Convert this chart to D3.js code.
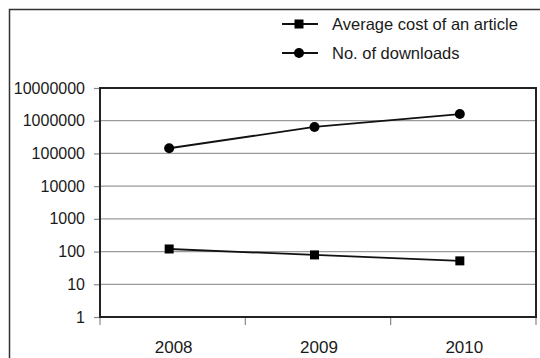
<!DOCTYPE html>
<html>
<head>
<meta charset="utf-8">
<script src="https://cdn.jsdelivr.net/npm/d3@7"></script>
<style>
  html, body { margin: 0; padding: 0; background: #fff; }
  svg { display: block; }
  text { font-family: "Liberation Sans", Arial, sans-serif; fill: #1a1a1a; }
</style>
</head>
<body>
<svg id="chart" width="540" height="358"></svg>
<script>
// Years on the x axis
const years = ["2008", "2009", "2010"];
// Series values (log scale)
const avgCost = [120, 79, 52];
const downloads = [144000, 646000, 1600000];
// Y tick values
const yTicks = [1, 10, 100, 1000, 10000, 100000, 1000000, 10000000];
// Legend entries
const seriesNames = ["Average cost of an article", "No. of downloads"];

const svg = d3.select("#chart");
const W = 540, H = 358;
const plot = { left: 100, right: 536, top: 88, bottom: 317 };

svg.append("rect").attr("width", W).attr("height", H).attr("fill", "#fff");

// outer frame (runs off the right and bottom edges)
svg.append("rect")
  .attr("x", 9.5).attr("y", 9.5)
  .attr("width", W + 20).attr("height", H + 20)
  .attr("fill", "none").attr("stroke", "#333").attr("stroke-width", 1.5);

const x = d3.scaleBand().domain(years).range([plot.left, plot.right]).padding(0);
const markerShift = -3.5;
const px = d => x(d) + x.bandwidth() / 2 + markerShift;

const y = d3.scaleLog().domain([1, 1e7]).range([plot.bottom, plot.top]);

// gridlines
svg.append("g")
  .selectAll("line")
  .data(yTicks.slice(1, -1))
  .join("line")
  .attr("x1", plot.left).attr("x2", plot.right)
  .attr("y1", d => y(d)).attr("y2", d => y(d))
  .attr("stroke", "#9a9a9a").attr("stroke-width", 1.2);

// y axis
const yAxis = svg.append("g")
  .attr("transform", `translate(${plot.left},0)`)
  .call(d3.axisLeft(y).tickValues(yTicks).tickFormat(d3.format("d")).tickSize(6).tickPadding(9));
yAxis.select(".domain").remove();
yAxis.selectAll(".tick line").attr("stroke", "#888").attr("stroke-width", 1.2);
yAxis.selectAll(".tick text")
  .style("font-size", "16px")
  .attr("fill", "#1a1a1a");

// x axis: ticks at category boundaries, labels centred in each band
const xBounds = years.map(d => x(d)).concat([plot.right]);
svg.append("g")
  .selectAll("line")
  .data(xBounds)
  .join("line")
  .attr("x1", d => d).attr("x2", d => d)
  .attr("y1", plot.bottom).attr("y2", plot.bottom + 8)
  .attr("stroke", "#888").attr("stroke-width", 1.2);

svg.append("g")
  .selectAll("text")
  .data(years)
  .join("text")
  .attr("x", d => x(d) + x.bandwidth() / 2 + 1)
  .attr("y", 353)
  .attr("text-anchor", "middle")
  .style("font-size", "17px")
  .text(d => d);

// plot frame
svg.append("rect")
  .attr("x", plot.left).attr("y", plot.top)
  .attr("width", plot.right - plot.left).attr("height", plot.bottom - plot.top)
  .attr("fill", "none").attr("stroke", "#222").attr("stroke-width", 2);

const line = d3.line().x(d => px(d.year)).y(d => y(d.value));

function drawSeries(values, shape) {
  const data = years.map((yr, i) => ({ year: yr, value: values[i] }));
  svg.append("path")
    .datum(data)
    .attr("d", line)
    .attr("fill", "none").attr("stroke", "#111").attr("stroke-width", 1.8);
  const g = svg.append("g");
  if (shape === "square") {
    g.selectAll("rect").data(data).join("rect")
      .attr("x", d => px(d.year) - 4.5).attr("y", d => y(d.value) - 4.5)
      .attr("width", 9).attr("height", 9).attr("fill", "#000");
  } else {
    g.selectAll("circle").data(data).join("circle")
      .attr("cx", d => px(d.year)).attr("cy", d => y(d.value))
      .attr("r", 5).attr("fill", "#000");
  }
}
drawSeries(avgCost, "square");
drawSeries(downloads, "circle");

// legend
const legend = svg.append("g");
const legendRows = [
  { name: seriesNames[0], shape: "square", y: 24 },
  { name: seriesNames[1], shape: "circle", y: 53 }
];
legendRows.forEach(r => {
  legend.append("line")
    .attr("x1", 282).attr("x2", 318).attr("y1", r.y).attr("y2", r.y)
    .attr("stroke", "#111").attr("stroke-width", 1.8);
  if (r.shape === "square") {
    legend.append("rect").attr("x", 299 - 4.5).attr("y", r.y - 4.5)
      .attr("width", 9).attr("height", 9).attr("fill", "#000");
  } else {
    legend.append("circle").attr("cx", 299).attr("cy", r.y).attr("r", 5).attr("fill", "#000");
  }
  legend.append("text")
    .attr("x", 332).attr("y", r.y + 6)
    .style("font-size", "16.5px")
    .text(r.name);
});
</script>
</body>
</html>
